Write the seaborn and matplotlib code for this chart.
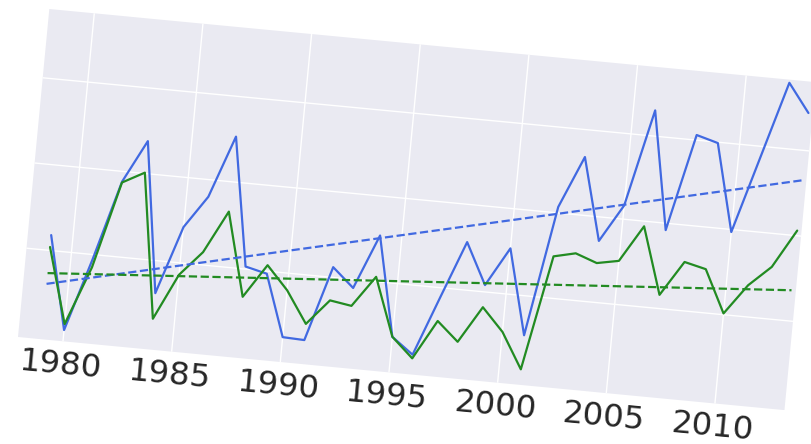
import numpy as np
import pandas as pd
import matplotlib
matplotlib.use("Agg")
import matplotlib.pyplot as plt
import seaborn as sns
from matplotlib.transforms import Affine2D
from mpl_toolkits.axisartist import floating_axes
from mpl_toolkits.axisartist.grid_finder import FixedLocator, DictFormatter

# ---- data -----------------------------------------------------------------
years = list(range(1979, 2014))
blue_values = [1.18, 0.09, 0.95, 1.88, 2.38, 0.62, 1.42, 1.80, 2.53, 1.03,
               0.97, 0.25, 0.24, 1.12, 0.90, 1.54, 0.375, 0.19, 0.88, 1.56,
               1.08, 1.535, 0.54, 2.07, 2.68, 1.72, 2.16, 3.30, 1.92, 3.06,
               2.99, 1.97, 2.87, 3.77, 3.44]
green_values = [1.04, 0.16, 0.85, 1.87, 2.01, 0.32, 0.86, 1.15, 1.65, 0.675,
                1.07, 0.80, 0.43, 0.73, 0.69, 1.055, 0.376, 0.147, 0.61, 0.39,
                0.82, 0.555, 0.14, 1.49, 1.55, 1.46, 1.51, 1.94, 1.16, 1.57,
                1.51, 1.015, 1.37, 1.61, 2.06]
series_names = ["blue", "green"]
year_ticks = [1980, 1985, 1990, 1995, 2000, 2005, 2010]
value_grid = [1, 2, 3]

palette = {"blue": "#4169E1", "green": "#228B22"}

# ---- long-form tables -----------------------------------------------------
df = pd.DataFrame({
    "year": years * 2,
    "value": blue_values + green_values,
    "series": [series_names[0]] * len(years) + [series_names[1]] * len(years),
})

# least-squares trend for each series
trend_parts = []
for name, vals in zip(series_names, [blue_values, green_values]):
    slope, intercept = np.polyfit(years, vals, 1)
    trend_parts.append(pd.DataFrame({
        "year": years,
        "value": slope * np.asarray(years) + intercept,
        "series": name,
    }))
trend_df = pd.concat(trend_parts, ignore_index=True)

# ---- style ----------------------------------------------------------------
sns.set_theme(style="darkgrid")

W, H, DPI = 811, 444, 100
fig = plt.figure(figsize=(W / DPI, H / DPI), dpi=DPI)

# tilted plotting frame
x_lo, x_hi = 1977.93, 2013.2
y_lo, y_hi = -0.042, 3.807
px_per_year, px_per_unit = 21.83, 85.6
tilt_deg = -5.45
origin_px = (18.0, 107.0)   # lower-left corner of the frame, figure pixels

tr = (Affine2D()
      .translate(-x_lo, -y_lo)
      .scale(px_per_year, px_per_unit)
      .rotate_deg(tilt_deg))

grid_helper = floating_axes.GridHelperCurveLinear(
    tr,
    extremes=(x_lo, x_hi, y_lo, y_hi),
    grid_locator1=FixedLocator(year_ticks),
    tick_formatter1=DictFormatter({y: str(y) for y in year_ticks}),
    grid_locator2=FixedLocator(value_grid),
    tick_formatter2=DictFormatter({v: "" for v in value_grid}),
)

corners = tr.transform([(x_lo, y_lo), (x_hi, y_lo), (x_hi, y_hi), (x_lo, y_hi)])
xmin, ymin = corners.min(axis=0)
xmax, ymax = corners.max(axis=0)
rect = [(origin_px[0] + xmin) / W, (origin_px[1] + ymin) / H,
        (xmax - xmin) / W, (ymax - ymin) / H]

ax = fig.add_axes(rect, axes_class=floating_axes.FloatingAxes,
                  grid_helper=grid_helper)
ax.set_xlim(xmin, xmax)
ax.set_ylim(ymin, ymax)
ax.grid(True, color="white", linewidth=1.0)

for side in ["left", "right", "top", "bottom"]:
    ax.axis[side].line.set_visible(False)
    ax.axis[side].major_ticks.set_visible(False)
    ax.axis[side].label.set_visible(False)
for side in ["left", "right", "top"]:
    ax.axis[side].major_ticklabels.set_visible(False)

bottom = ax.axis["bottom"].major_ticklabels
bottom.set_fontsize(23.3)
bottom.set_color("#262626")
bottom.set_pad(7)

aux = ax.get_aux_axes(tr)

sns.lineplot(data=df, x="year", y="value", hue="series", palette=palette,
             linewidth=1.6, legend=False, ax=aux)
sns.lineplot(data=trend_df, x="year", y="value", hue="series", palette=palette,
             linewidth=1.6, linestyle="--", legend=False, ax=aux)

fig.savefig("out.png", dpi=DPI, facecolor="white")
